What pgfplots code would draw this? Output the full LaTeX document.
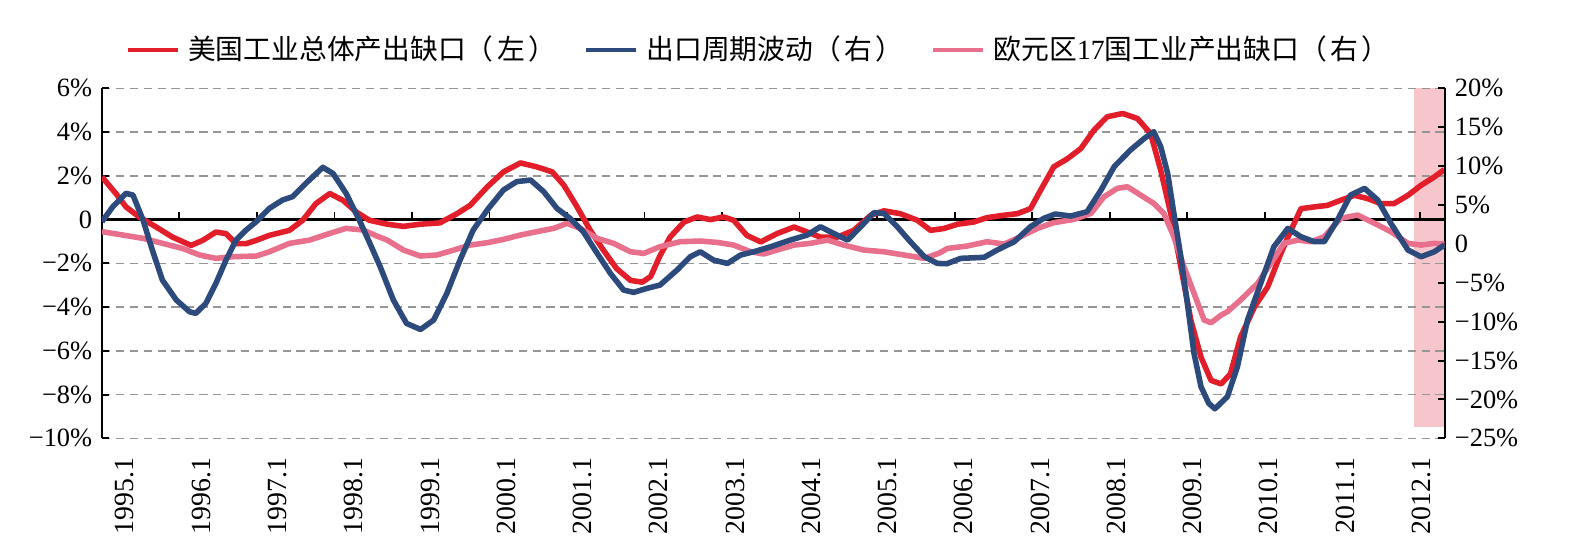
\documentclass[border=0pt]{standalone}
\usepackage{pgfplots}
\pgfplotsset{compat=1.18}
\usepackage{pgfplotstable}
\usepackage{fontspec}
\setmainfont{Liberation Serif}
\newfontfamily\cjk{Noto Sans CJK SC}
\definecolor{usred}{RGB}{226,30,42}
\definecolor{expblue}{RGB}{44,74,124}
\definecolor{eupink}{RGB}{232,112,140}
\definecolor{bandpink}{RGB}{246,198,204}
\definecolor{gridgray}{RGB}{150,150,150}

\pgfplotstableread{
x y
1995.00 1.95
1995.18 1.19
1995.31 0.58
1995.48 0.12
1995.70 -0.34
1995.91 -0.80
1996.15 -1.18
1996.30 -0.95
1996.47 -0.57
1996.60 -0.64
1996.73 -1.10
1996.86 -1.10
1996.99 -0.95
1997.16 -0.72
1997.42 -0.49
1997.59 -0.03
1997.76 0.73
1997.94 1.19
1998.11 0.88
1998.28 0.35
1998.45 -0.03
1998.68 -0.21
1998.89 -0.31
1999.11 -0.21
1999.36 -0.15
1999.58 0.27
1999.75 0.65
1999.97 1.49
2000.18 2.18
2000.40 2.59
2000.61 2.41
2000.81 2.18
2000.96 1.57
2001.13 0.58
2001.30 -0.49
2001.47 -1.40
2001.64 -2.24
2001.82 -2.78
2001.97 -2.86
2002.08 -2.60
2002.20 -1.65
2002.33 -0.80
2002.51 -0.11
2002.68 0.12
2002.85 0.00
2003.02 0.12
2003.15 -0.03
2003.32 -0.72
2003.50 -1.02
2003.71 -0.64
2003.93 -0.34
2004.10 -0.57
2004.27 -0.80
2004.49 -0.80
2004.70 -0.49
2004.92 0.20
2005.09 0.40
2005.30 0.27
2005.52 -0.03
2005.69 -0.49
2005.86 -0.41
2006.04 -0.21
2006.25 -0.11
2006.42 0.09
2006.64 0.20
2006.81 0.27
2006.98 0.50
2007.11 1.34
2007.28 2.41
2007.46 2.79
2007.63 3.25
2007.80 4.09
2007.97 4.70
2008.17 4.85
2008.36 4.62
2008.53 3.93
2008.66 2.26
2008.79 0.27
2008.92 -2.17
2009.05 -4.61
2009.18 -6.29
2009.31 -7.35
2009.44 -7.51
2009.56 -7.05
2009.69 -5.37
2009.87 -3.99
2010.04 -3.08
2010.21 -1.55
2010.34 -0.49
2010.47 0.50
2010.64 0.58
2010.81 0.65
2010.98 0.88
2011.16 1.11
2011.33 0.96
2011.50 0.73
2011.67 0.73
2011.85 1.11
2012.02 1.57
2012.19 1.95
2012.32 2.29
}\usgap

\pgfplotstableread{
x y
1995.00 2.85
1995.14 4.78
1995.31 6.50
1995.40 6.28
1995.53 3.07
1995.65 -0.79
1995.78 -4.65
1995.96 -7.22
1996.13 -8.72
1996.21 -8.93
1996.34 -7.65
1996.47 -5.08
1996.60 -2.08
1996.73 0.49
1996.86 1.78
1996.99 2.85
1997.16 4.57
1997.33 5.64
1997.46 6.07
1997.63 7.78
1997.85 9.84
1997.98 9.07
1998.15 6.50
1998.32 3.07
1998.46 0.00
1998.59 -2.94
1998.76 -7.22
1998.93 -10.22
1999.11 -11.00
1999.28 -9.79
1999.45 -6.36
1999.62 -2.08
1999.79 1.78
1999.97 4.35
2000.18 6.93
2000.35 8.00
2000.53 8.21
2000.70 6.71
2000.87 4.57
2001.04 3.28
2001.21 1.57
2001.39 -1.22
2001.56 -3.79
2001.73 -5.93
2001.86 -6.23
2002.03 -5.72
2002.20 -5.29
2002.42 -3.36
2002.59 -1.65
2002.72 -1.01
2002.89 -2.08
2003.07 -2.51
2003.24 -1.43
2003.41 -1.01
2003.63 -0.36
2003.88 0.49
2004.10 1.14
2004.27 2.21
2004.44 1.35
2004.62 0.49
2004.79 2.21
2004.96 4.01
2005.09 3.92
2005.26 2.21
2005.43 0.28
2005.61 -1.65
2005.78 -2.51
2005.90 -2.55
2006.08 -1.86
2006.38 -1.73
2006.55 -0.79
2006.77 0.28
2006.98 2.21
2007.15 3.28
2007.30 3.84
2007.50 3.58
2007.71 4.14
2007.89 6.93
2008.06 9.93
2008.27 12.07
2008.45 13.57
2008.57 14.43
2008.66 12.50
2008.75 9.07
2008.83 3.92
2008.92 -1.65
2009.01 -8.08
2009.09 -14.08
2009.18 -18.36
2009.28 -20.50
2009.36 -21.20
2009.52 -19.65
2009.65 -15.79
2009.78 -9.79
2009.95 -5.08
2010.12 -0.36
2010.30 1.99
2010.47 0.92
2010.64 0.28
2010.77 0.28
2010.94 3.07
2011.11 6.28
2011.29 7.14
2011.46 5.64
2011.63 2.64
2011.85 -0.79
2012.02 -1.65
2012.19 -1.01
2012.32 -0.15
}\export

\pgfplotstableread{
x y
1995.00 1.57
1995.27 1.14
1995.53 0.71
1995.78 0.07
1996.04 -0.58
1996.26 -1.43
1996.47 -1.86
1996.69 -1.65
1996.99 -1.56
1997.16 -1.01
1997.42 0.07
1997.68 0.49
1997.94 1.35
1998.15 2.00
1998.37 1.78
1998.55 1.00
1998.68 0.49
1998.89 -0.79
1999.11 -1.56
1999.32 -1.43
1999.54 -0.79
1999.75 -0.15
1999.97 0.15
2000.18 0.58
2000.40 1.14
2000.61 1.57
2000.83 2.00
2001.00 2.64
2001.17 2.00
2001.39 0.71
2001.60 0.07
2001.82 -1.01
2001.99 -1.22
2002.20 -0.36
2002.46 0.28
2002.72 0.37
2002.94 0.19
2003.15 -0.15
2003.37 -1.01
2003.54 -1.30
2003.71 -0.79
2003.93 -0.15
2004.14 0.07
2004.36 0.49
2004.57 -0.15
2004.83 -0.79
2005.09 -1.01
2005.35 -1.43
2005.61 -1.86
2005.80 -1.20
2005.91 -0.58
2006.16 -0.28
2006.42 0.28
2006.64 -0.02
2006.85 0.92
2007.07 2.00
2007.28 2.73
2007.54 3.15
2007.76 3.92
2007.93 6.07
2008.10 7.14
2008.23 7.35
2008.40 6.28
2008.57 5.21
2008.70 3.92
2008.83 0.92
2008.96 -2.94
2009.09 -6.36
2009.22 -9.79
2009.31 -10.13
2009.44 -9.15
2009.52 -8.72
2009.69 -7.22
2009.91 -5.08
2010.08 -2.51
2010.25 0.07
2010.43 0.49
2010.60 0.28
2010.77 0.92
2010.98 3.28
2011.20 3.71
2011.42 2.64
2011.63 1.57
2011.85 0.07
2012.02 -0.15
2012.19 0.07
2012.32 -0.02
}\eurogap

\begin{document}
\begin{tikzpicture}
\pgfplotsset{
  every axis/.append style={
    scale only axis, width=483.5pt, height=126pt,
    xmin=1995, xmax=2012.33,
    tick align=inside,
    major tick length=2.5pt,
    axis line style={line width=0.8pt, black},
    y tick style={line width=0.7pt, black},
    y tick label style={font=\fontsize{9.5}{10}\selectfont},
  }
}
\begin{axis}[
  set layers,
  axis y line*=left,
  axis x line*=bottom,
  x axis line style={draw=none},
  xtick style={draw=none},
  ymin=-10, ymax=6,
  ytick={-10,-8,-6,-4,-2,0,2,4,6},
  yticklabels={−10\%,−8\%,−6\%,−4\%,−2\%,0,2\%,4\%,6\%},
  ymajorgrids,
  grid style={gridgray, dash pattern=on 3pt off 2pt, line width=0.55pt},
  xtick={1995.297,1996.281,1997.265,1998.249,1999.233,2000.217,2001.200,2002.184,2003.168,2004.152,2005.136,2006.120,2007.104,2008.088,2009.072,2010.056,2011.039,2012.023},
  xticklabels={1995.1,1996.1,1997.1,1998.1,1999.1,2000.1,2001.1,2002.1,2003.1,2004.1,2005.1,2006.1,2007.1,2008.1,2009.1,2010.1,2011.1,2012.1},
  x tick label style={rotate=90, anchor=east, font=\fontsize{10}{12}\selectfont},
  xticklabel shift=3.5pt,
]
\addplot[fill=bandpink, draw=none, on layer=axis background] coordinates {(2011.93,-9.49) (2012.33,-9.49) (2012.33,6) (2011.93,6)} -- cycle;
\draw[black, line width=0.8pt] (axis cs:1995,0) -- (axis cs:2012.33,0);
\pgfplotsinvokeforeach{1996,1997,1998,1999,2000,2001,2002,2003,2004,2005,2006,2007,2008,2009,2010,2011,2012}{
  \draw[black, line width=0.7pt] (axis cs:#1,0) -- ++(0pt,2.8pt);
}
\addplot[usred, line width=2pt, line join=round] table[x=x,y=y] {\usgap};
\end{axis}

\begin{axis}[
  axis y line*=right,
  axis x line=none,
  ymin=-25, ymax=20,
  ytick={-25,-20,-15,-10,-5,0,5,10,15,20},
  yticklabels={−25\%,−20\%,−15\%,−10\%,−5\%,0,5\%,10\%,15\%,20\%},
  legend style={at={(0.49,1.109)}, anchor=center, draw=none, fill=none,
    font=\fontsize{10}{12}\selectfont,
    /tikz/every odd column/.append style={column sep=1pt},
    /tikz/every even column/.append style={column sep=8pt}},
  legend columns=-1,
  legend image code/.code={\draw[#1, line width=1.6pt] (0pt,0pt) -- (18pt,0pt);},
]
\addlegendimage{usred}
\addlegendentry{\cjk 美国工业总体产出缺口（\hspace{0.12em}左\hspace{0.12em}）}
\addplot[eupink, line width=2pt, line join=round, forget plot] table[x=x,y=y] {\eurogap};
\addplot[expblue, line width=2pt, line join=round] table[x=x,y=y] {\export};
\addlegendentry{\cjk 出口周期波动（\hspace{0.12em}右\hspace{0.12em}）}
\addlegendimage{eupink}
\addlegendentry{{\cjk 欧元区}17{\cjk 国工业产出缺口（\hspace{0.12em}右\hspace{0.12em}）}}
\end{axis}
\path (-36.7pt,-39.1pt) rectangle (534.2pt,157.8pt);
\end{tikzpicture}
\end{document}
